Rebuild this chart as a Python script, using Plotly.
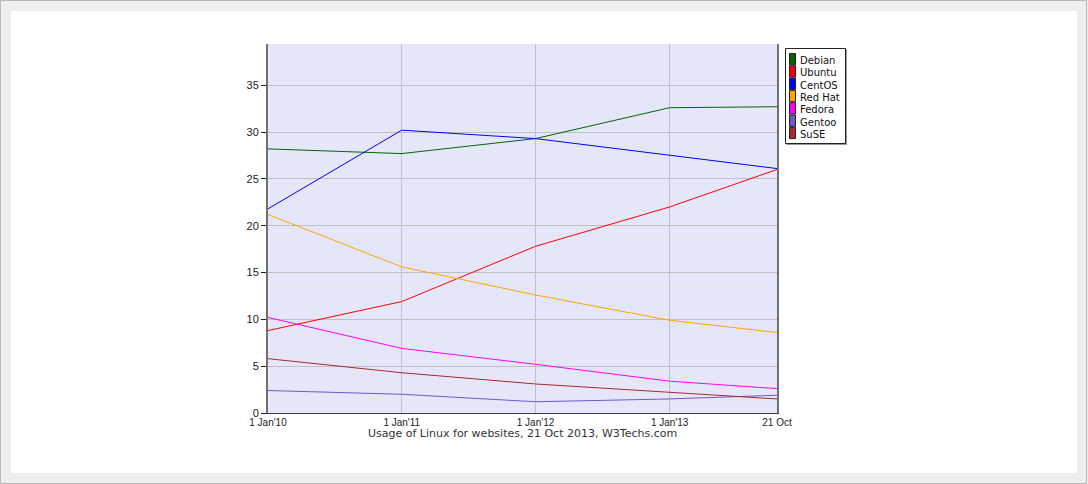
import plotly.graph_objects as go

# ----------------------------------
# Data
# ----------------------------------
dates = ["2010-01-01", "2011-01-01", "2012-01-01", "2013-01-01", "2013-10-21"]
tick_text = ["1 Jan'10", "1 Jan'11", "1 Jan'12", "1 Jan'13", "21 Oct"]

debian = [28.2, 27.7, 29.3, 32.6, 32.7]
ubuntu = [8.8, 11.9, 17.8, 22.0, 26.0]
centos = [21.8, 30.2, 29.3, 27.5, 26.1]
redhat = [21.2, 15.6, 12.6, 9.9, 8.6]
fedora = [10.2, 6.9, 5.2, 3.4, 2.6]
gentoo = [2.4, 2.0, 1.2, 1.5, 1.9]
suse = [5.8, 4.3, 3.1, 2.2, 1.5]

series = [
    ("Debian", debian, "#006400"),
    ("Ubuntu", ubuntu, "#ff0000"),
    ("CentOS", centos, "#0000ff"),
    ("Red Hat", redhat, "#ffa500"),
    ("Fedora", fedora, "#ff00ff"),
    ("Gentoo", gentoo, "#6a5acd"),
    ("SuSE", suse, "#a52a2a"),
]

W, H = 1088, 484
L, R, T, B = 268, 777, 44, 413


def px_x(p):
    return (p - L) / (R - L)


def px_y(p):
    return (B - p) / (B - T)


fig = go.Figure()

for name, vals, color in series:
    fig.add_trace(
        go.Scatter(
            x=dates,
            y=vals,
            mode="lines",
            line=dict(color=color, width=1),
            name=name
        )
    )

shapes = [
    # grey page frame
    dict(type="rect", xref="paper", yref="paper",
         x0=px_x(5.5), x1=px_x(W - 5.5), y0=px_y(5.5), y1=px_y(H - 5.5),
         line=dict(color="#eeeeee", width=11), fillcolor="rgba(0,0,0,0)"),
    dict(type="rect", xref="paper", yref="paper",
         x0=px_x(0.5), x1=px_x(W - 1.5), y0=px_y(0.5), y1=px_y(H - 0.5),
         line=dict(color="#b8b8b8", width=1), fillcolor="rgba(0,0,0,0)"),
    # legend box shadow + box
    dict(type="rect", xref="paper", yref="paper",
         x0=px_x(786.5), x1=px_x(846.5), y0=px_y(49.5), y1=px_y(144.5),
         line=dict(color="#999999", width=1), fillcolor="#999999"),
    dict(type="rect", xref="paper", yref="paper",
         x0=px_x(785.5), x1=px_x(845.5), y0=px_y(48.5), y1=px_y(143.5),
         line=dict(color="#222222", width=1), fillcolor="white"),
]

annotations = [
    dict(
        text="Usage of Linux for websites, 21 Oct 2013, W3Techs.com",
        xref="paper", yref="paper",
        x=0.5, y=px_y(433),
        xanchor="center", yanchor="middle",
        showarrow=False,
        font=dict(family="DejaVu Sans", size=11, color="#333333")
    )
]

# manual legend (compact rows like the original)
for i, (name, vals, color) in enumerate(series):
    top = 53.5 + 12.3 * i
    shapes.append(
        dict(type="rect", xref="paper", yref="paper",
             x0=px_x(789.5), x1=px_x(795.5), y0=px_y(top), y1=px_y(top + 11.3),
             line=dict(color="#222222", width=1), fillcolor=color)
    )
    annotations.append(
        dict(text=name, xref="paper", yref="paper",
             x=px_x(798), y=px_y(top + 7),
             xanchor="left", yanchor="middle", showarrow=False,
             font=dict(family="DejaVu Sans", size=10, color="#111111"))
    )

fig.update_layout(
    width=W,
    height=H,
    margin=dict(l=L, r=W - R, t=T, b=H - B),
    paper_bgcolor="white",
    plot_bgcolor="#e6e6fa",
    showlegend=False,
    xaxis=dict(
        type="date",
        range=[dates[0], dates[-1]],
        tickvals=dates,
        ticktext=tick_text,
        showgrid=True,
        gridcolor="#c0c0c0",
        gridwidth=1,
        showline=True,
        linecolor="#404040",
        linewidth=1,
        ticks="",
        ticklabelstandoff=0,
        tickfont=dict(family="Liberation Sans", size=10, color="#222222"),
        zeroline=False
    ),
    yaxis=dict(
        range=[0, 39.4],
        tickvals=[0, 5, 10, 15, 20, 25, 30, 35],
        showgrid=True,
        gridcolor="#c0c0c0",
        gridwidth=1,
        showline=True,
        mirror=True,
        linecolor="#707070",
        linewidth=2,
        ticks="outside",
        ticklen=5,
        tickcolor="#222222",
        tickfont=dict(family="Liberation Sans", size=11, color="#222222"),
        zeroline=False
    ),
    annotations=annotations,
    shapes=shapes
)

fig.write_html(
    "out.html",
    config={"displayModeBar": False},
    post_script="document.body.style.margin='0';"
)
